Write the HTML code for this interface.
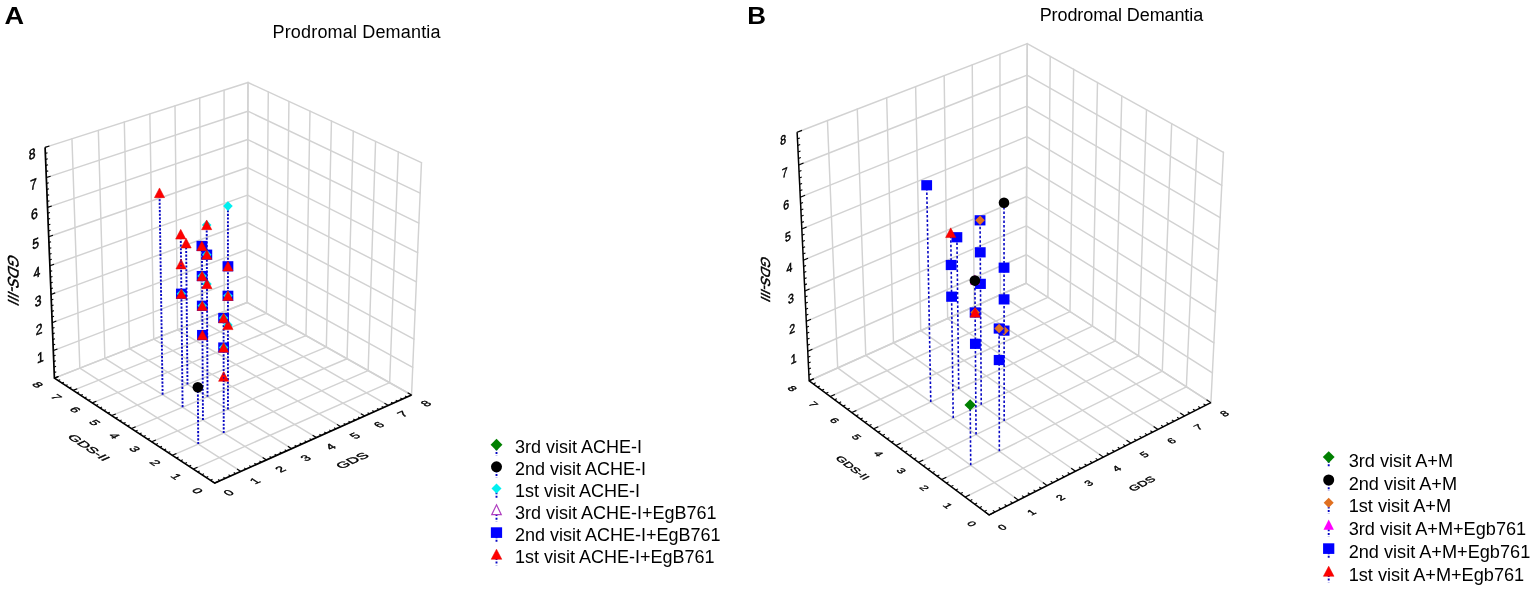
<!DOCTYPE html>
<html><head><meta charset="utf-8"><title>Prodromal Demantia</title>
<style>html,body{margin:0;padding:0;background:#fff}svg{display:block}</style></head>
<body>
<svg width="1535" height="592" viewBox="0 0 1535 592">
<rect width="1535" height="592" fill="#fff"/>
<g font-family="Liberation Sans, Arial, sans-serif" fill="#000">
<text transform="translate(4.6 24) scale(1.13 1)" font-size="24" font-weight="bold">A</text>
<text transform="translate(747.2 23.8) scale(1.08 1)" font-size="24" font-weight="bold">B</text>
<text x="272.5" y="38.4" font-size="18" textLength="168" lengthAdjust="spacing">Prodromal Demantia</text>
<text x="1039.7" y="21.2" font-size="18" textLength="163.5" lengthAdjust="spacing">Prodromal Demantia</text>
</g>
<g stroke="#d2d2d2" stroke-width="1.45" fill="none" stroke-linecap="round">
<line x1="214.77" y1="483.09" x2="54.42" y2="378.12"/>
<line x1="214.77" y1="483.09" x2="411.55" y2="395"/>
<line x1="54.42" y1="378.12" x2="45.1" y2="147.39"/>
<line x1="54.42" y1="378.12" x2="247.08" y2="302.49"/>
<line x1="411.55" y1="395" x2="421.46" y2="162.61"/>
<line x1="411.55" y1="395" x2="247.08" y2="302.49"/>
<line x1="240.84" y1="471.42" x2="79.84" y2="368.14"/>
<line x1="193.33" y1="469.06" x2="389.66" y2="382.68"/>
<line x1="79.84" y1="368.14" x2="71.94" y2="138.8"/>
<line x1="53.31" y1="350.57" x2="247.19" y2="276.15"/>
<line x1="389.66" y1="382.68" x2="398.29" y2="151.91"/>
<line x1="412.74" y1="367.27" x2="247.19" y2="276.15"/>
<line x1="266.47" y1="459.95" x2="104.86" y2="358.32"/>
<line x1="172.32" y1="455.3" x2="368.16" y2="370.59"/>
<line x1="104.86" y1="358.32" x2="98.34" y2="130.36"/>
<line x1="52.18" y1="322.67" x2="247.31" y2="249.49"/>
<line x1="368.16" y1="370.59" x2="375.57" y2="141.42"/>
<line x1="413.93" y1="339.17" x2="247.31" y2="249.49"/>
<line x1="291.67" y1="448.67" x2="129.48" y2="348.65"/>
<line x1="151.71" y1="441.81" x2="347.06" y2="358.72"/>
<line x1="129.48" y1="348.65" x2="124.31" y2="122.06"/>
<line x1="51.04" y1="294.4" x2="247.42" y2="222.5"/>
<line x1="347.06" y1="358.72" x2="353.29" y2="131.13"/>
<line x1="415.15" y1="310.71" x2="247.42" y2="222.5"/>
<line x1="316.44" y1="437.58" x2="153.73" y2="339.14"/>
<line x1="131.5" y1="428.58" x2="326.34" y2="347.07"/>
<line x1="153.73" y1="339.14" x2="149.86" y2="113.89"/>
<line x1="49.88" y1="265.76" x2="247.54" y2="195.19"/>
<line x1="326.34" y1="347.07" x2="331.44" y2="121.03"/>
<line x1="416.38" y1="281.87" x2="247.54" y2="195.19"/>
<line x1="340.81" y1="426.67" x2="177.61" y2="329.76"/>
<line x1="111.68" y1="415.61" x2="305.99" y2="335.62"/>
<line x1="177.61" y1="329.76" x2="174.99" y2="105.85"/>
<line x1="48.71" y1="236.75" x2="247.65" y2="167.54"/>
<line x1="305.99" y1="335.62" x2="309.99" y2="111.13"/>
<line x1="417.62" y1="252.65" x2="247.65" y2="167.54"/>
<line x1="364.78" y1="415.94" x2="201.12" y2="320.53"/>
<line x1="92.23" y1="402.88" x2="286.01" y2="324.38"/>
<line x1="201.12" y1="320.53" x2="199.72" y2="97.94"/>
<line x1="47.52" y1="207.36" x2="247.77" y2="139.54"/>
<line x1="286.01" y1="324.38" x2="288.94" y2="101.41"/>
<line x1="418.88" y1="223.04" x2="247.77" y2="139.54"/>
<line x1="388.36" y1="405.38" x2="224.27" y2="311.44"/>
<line x1="73.15" y1="390.38" x2="266.37" y2="313.34"/>
<line x1="224.27" y1="311.44" x2="224.06" y2="90.16"/>
<line x1="46.32" y1="177.57" x2="247.89" y2="111.2"/>
<line x1="266.37" y1="313.34" x2="268.29" y2="91.87"/>
<line x1="420.16" y1="193.03" x2="247.89" y2="111.2"/>
<line x1="411.55" y1="395" x2="247.08" y2="302.49"/>
<line x1="54.42" y1="378.12" x2="247.08" y2="302.49"/>
<line x1="247.08" y1="302.49" x2="248.01" y2="82.5"/>
<line x1="45.1" y1="147.39" x2="248.01" y2="82.5"/>
<line x1="247.08" y1="302.49" x2="248.01" y2="82.5"/>
<line x1="421.46" y1="162.61" x2="248.01" y2="82.5"/>
</g>
<g stroke="#000" stroke-width="1.7" fill="none" stroke-linejoin="miter">
<polyline points="45.1,147.39 54.42,378.12 214.77,483.09 411.55,395"/>
</g><g stroke="#000" stroke-width="1.1" fill="none">
<line x1="214.77" y1="483.09" x2="210.97" y2="480.6"/>
<line x1="214.77" y1="483.09" x2="218.97" y2="481.21"/>
<line x1="54.42" y1="378.12" x2="58.51" y2="376.52"/>
<line x1="220.02" y1="480.74" x2="218.12" y2="479.5"/>
<line x1="210.45" y1="480.26" x2="212.55" y2="479.32"/>
<line x1="54.2" y1="372.64" x2="56.25" y2="371.84"/>
<line x1="225.25" y1="478.4" x2="223.35" y2="477.16"/>
<line x1="206.15" y1="477.44" x2="208.25" y2="476.51"/>
<line x1="53.98" y1="367.15" x2="56.03" y2="366.35"/>
<line x1="230.47" y1="476.06" x2="228.56" y2="474.83"/>
<line x1="201.86" y1="474.64" x2="203.96" y2="473.71"/>
<line x1="53.75" y1="361.63" x2="55.81" y2="360.84"/>
<line x1="235.66" y1="473.74" x2="233.75" y2="472.51"/>
<line x1="197.59" y1="471.84" x2="199.69" y2="470.91"/>
<line x1="53.53" y1="356.11" x2="55.59" y2="355.32"/>
<line x1="240.84" y1="471.42" x2="237.02" y2="468.97"/>
<line x1="193.33" y1="469.06" x2="197.52" y2="467.21"/>
<line x1="53.31" y1="350.57" x2="57.43" y2="348.99"/>
<line x1="246" y1="469.11" x2="244.09" y2="467.89"/>
<line x1="189.1" y1="466.28" x2="191.19" y2="465.36"/>
<line x1="53.08" y1="345.02" x2="55.15" y2="344.23"/>
<line x1="251.15" y1="466.81" x2="249.23" y2="465.59"/>
<line x1="184.88" y1="463.52" x2="186.97" y2="462.61"/>
<line x1="52.86" y1="339.45" x2="54.92" y2="338.67"/>
<line x1="256.27" y1="464.51" x2="254.36" y2="463.3"/>
<line x1="180.68" y1="460.77" x2="182.77" y2="459.86"/>
<line x1="52.63" y1="333.87" x2="54.7" y2="333.09"/>
<line x1="261.38" y1="462.23" x2="259.46" y2="461.02"/>
<line x1="176.49" y1="458.03" x2="178.58" y2="457.12"/>
<line x1="52.41" y1="328.28" x2="54.48" y2="327.49"/>
<line x1="266.47" y1="459.95" x2="262.64" y2="457.54"/>
<line x1="172.32" y1="455.3" x2="176.49" y2="453.49"/>
<line x1="52.18" y1="322.67" x2="56.33" y2="321.11"/>
<line x1="271.54" y1="457.68" x2="269.63" y2="456.47"/>
<line x1="168.16" y1="452.58" x2="170.25" y2="451.68"/>
<line x1="51.95" y1="317.04" x2="54.03" y2="316.27"/>
<line x1="276.6" y1="455.41" x2="274.68" y2="454.22"/>
<line x1="164.03" y1="449.87" x2="166.11" y2="448.98"/>
<line x1="51.72" y1="311.4" x2="53.81" y2="310.63"/>
<line x1="281.64" y1="453.16" x2="279.72" y2="451.96"/>
<line x1="159.91" y1="447.17" x2="161.99" y2="446.28"/>
<line x1="51.5" y1="305.75" x2="53.58" y2="304.98"/>
<line x1="286.66" y1="450.91" x2="284.74" y2="449.72"/>
<line x1="155.8" y1="444.49" x2="157.88" y2="443.6"/>
<line x1="51.27" y1="300.08" x2="53.35" y2="299.31"/>
<line x1="291.67" y1="448.67" x2="287.83" y2="446.3"/>
<line x1="151.71" y1="441.81" x2="155.87" y2="440.04"/>
<line x1="51.04" y1="294.4" x2="55.21" y2="292.87"/>
<line x1="296.66" y1="446.43" x2="294.73" y2="445.25"/>
<line x1="147.64" y1="439.14" x2="149.72" y2="438.26"/>
<line x1="50.81" y1="288.7" x2="52.9" y2="287.94"/>
<line x1="301.63" y1="444.21" x2="299.7" y2="443.03"/>
<line x1="143.58" y1="436.49" x2="145.66" y2="435.61"/>
<line x1="50.58" y1="282.99" x2="52.67" y2="282.23"/>
<line x1="306.58" y1="441.99" x2="304.66" y2="440.82"/>
<line x1="139.54" y1="433.84" x2="141.62" y2="432.97"/>
<line x1="50.34" y1="277.26" x2="52.44" y2="276.5"/>
<line x1="311.52" y1="439.78" x2="309.6" y2="438.61"/>
<line x1="135.51" y1="431.21" x2="137.59" y2="430.33"/>
<line x1="50.11" y1="271.52" x2="52.21" y2="270.77"/>
<line x1="316.44" y1="437.58" x2="312.59" y2="435.25"/>
<line x1="131.5" y1="428.58" x2="135.65" y2="426.85"/>
<line x1="49.88" y1="265.76" x2="54.09" y2="264.26"/>
<line x1="321.35" y1="435.38" x2="319.42" y2="434.22"/>
<line x1="127.51" y1="425.97" x2="129.58" y2="425.1"/>
<line x1="49.65" y1="259.99" x2="51.75" y2="259.24"/>
<line x1="326.24" y1="433.19" x2="324.31" y2="432.03"/>
<line x1="123.53" y1="423.36" x2="125.6" y2="422.5"/>
<line x1="49.41" y1="254.2" x2="51.52" y2="253.46"/>
<line x1="331.11" y1="431.01" x2="329.18" y2="429.86"/>
<line x1="119.56" y1="420.77" x2="121.64" y2="419.91"/>
<line x1="49.18" y1="248.4" x2="51.29" y2="247.66"/>
<line x1="335.97" y1="428.84" x2="334.04" y2="427.68"/>
<line x1="115.61" y1="418.18" x2="117.68" y2="417.33"/>
<line x1="48.94" y1="242.58" x2="51.06" y2="241.84"/>
<line x1="340.81" y1="426.67" x2="336.95" y2="424.38"/>
<line x1="111.68" y1="415.61" x2="115.82" y2="413.9"/>
<line x1="48.71" y1="236.75" x2="52.94" y2="235.28"/>
<line x1="345.64" y1="424.51" x2="343.7" y2="423.36"/>
<line x1="107.76" y1="413.04" x2="109.83" y2="412.19"/>
<line x1="48.47" y1="230.9" x2="50.59" y2="230.17"/>
<line x1="350.45" y1="422.36" x2="348.51" y2="421.22"/>
<line x1="103.86" y1="410.48" x2="105.92" y2="409.64"/>
<line x1="48.23" y1="225.04" x2="50.36" y2="224.31"/>
<line x1="355.24" y1="420.21" x2="353.3" y2="419.07"/>
<line x1="99.97" y1="407.94" x2="102.03" y2="407.1"/>
<line x1="48" y1="219.16" x2="50.12" y2="218.43"/>
<line x1="360.02" y1="418.07" x2="358.08" y2="416.94"/>
<line x1="96.09" y1="405.4" x2="98.16" y2="404.56"/>
<line x1="47.76" y1="213.27" x2="49.89" y2="212.54"/>
<line x1="364.78" y1="415.94" x2="360.91" y2="413.68"/>
<line x1="92.23" y1="402.88" x2="96.35" y2="401.21"/>
<line x1="47.52" y1="207.36" x2="51.78" y2="205.91"/>
<line x1="369.52" y1="413.81" x2="367.59" y2="412.69"/>
<line x1="88.39" y1="400.36" x2="90.45" y2="399.53"/>
<line x1="47.28" y1="201.43" x2="49.42" y2="200.71"/>
<line x1="374.26" y1="411.7" x2="372.32" y2="410.58"/>
<line x1="84.55" y1="397.85" x2="86.61" y2="397.02"/>
<line x1="47.04" y1="195.49" x2="49.18" y2="194.77"/>
<line x1="378.97" y1="409.59" x2="377.03" y2="408.47"/>
<line x1="80.74" y1="395.35" x2="82.8" y2="394.53"/>
<line x1="46.8" y1="189.53" x2="48.94" y2="188.82"/>
<line x1="383.67" y1="407.48" x2="381.73" y2="406.37"/>
<line x1="76.94" y1="392.86" x2="78.99" y2="392.04"/>
<line x1="46.56" y1="183.56" x2="48.7" y2="182.85"/>
<line x1="388.36" y1="405.38" x2="384.48" y2="403.17"/>
<line x1="73.15" y1="390.38" x2="77.26" y2="388.75"/>
<line x1="46.32" y1="177.57" x2="50.61" y2="176.16"/>
<line x1="393.03" y1="403.29" x2="391.08" y2="402.19"/>
<line x1="69.37" y1="387.91" x2="71.43" y2="387.1"/>
<line x1="46.07" y1="171.57" x2="48.23" y2="170.86"/>
<line x1="397.68" y1="401.21" x2="395.74" y2="400.11"/>
<line x1="65.61" y1="385.45" x2="67.67" y2="384.64"/>
<line x1="45.83" y1="165.55" x2="47.99" y2="164.84"/>
<line x1="402.32" y1="399.13" x2="400.38" y2="398.03"/>
<line x1="61.87" y1="383" x2="63.92" y2="382.19"/>
<line x1="45.59" y1="159.51" x2="47.74" y2="158.81"/>
<line x1="406.94" y1="397.06" x2="405" y2="395.97"/>
<line x1="58.14" y1="380.56" x2="60.19" y2="379.75"/>
<line x1="45.34" y1="153.46" x2="47.5" y2="152.76"/>
<line x1="411.55" y1="395" x2="407.67" y2="392.82"/>
<line x1="54.42" y1="378.12" x2="58.51" y2="376.52"/>
<line x1="45.1" y1="147.39" x2="49.42" y2="146"/>
</g>
<g font-family="Liberation Sans, Arial, sans-serif" fill="#000" stroke="#000" stroke-width="0.45">
<text transform="matrix(0.9127 -0.4086 0.7530 0.4929 228.63 492.75)" font-size="12.5" text-anchor="middle" dy="0.35em" >0</text>
<text transform="matrix(0.8367 0.5477 -0.8214 0.3677 197.58 490.78)" font-size="12.5" text-anchor="middle" dy="0.35em" >0</text>
<text transform="matrix(0.9127 -0.4086 0.7530 0.4929 254.76 480.91)" font-size="12.5" text-anchor="middle" dy="0.35em" >1</text>
<text transform="matrix(0.8367 0.5477 -0.8214 0.3677 176.2 476.6)" font-size="12.5" text-anchor="middle" dy="0.35em" >1</text>
<text transform="matrix(0.9774 -0.3837 -0.0000 1.1500 40.31 357.07)" font-size="12.5" text-anchor="middle" dy="0.35em" >1</text>
<text transform="matrix(0.9127 -0.4086 0.7530 0.4929 280.44 469.28)" font-size="12.5" text-anchor="middle" dy="0.35em" >2</text>
<text transform="matrix(0.8367 0.5477 -0.8214 0.3677 155.24 462.69)" font-size="12.5" text-anchor="middle" dy="0.35em" >2</text>
<text transform="matrix(0.9774 -0.3837 -0.0000 1.1500 39.18 329.17)" font-size="12.5" text-anchor="middle" dy="0.35em" >2</text>
<text transform="matrix(0.9127 -0.4086 0.7530 0.4929 305.69 457.85)" font-size="12.5" text-anchor="middle" dy="0.35em" >3</text>
<text transform="matrix(0.8367 0.5477 -0.8214 0.3677 134.68 449.05)" font-size="12.5" text-anchor="middle" dy="0.35em" >3</text>
<text transform="matrix(0.9774 -0.3837 -0.0000 1.1500 38.04 300.9)" font-size="12.5" text-anchor="middle" dy="0.35em" >3</text>
<text transform="matrix(0.9127 -0.4086 0.7530 0.4929 330.51 446.61)" font-size="12.5" text-anchor="middle" dy="0.35em" >4</text>
<text transform="matrix(0.8367 0.5477 -0.8214 0.3677 114.53 435.68)" font-size="12.5" text-anchor="middle" dy="0.35em" >4</text>
<text transform="matrix(0.9774 -0.3837 -0.0000 1.1500 36.88 272.26)" font-size="12.5" text-anchor="middle" dy="0.35em" >4</text>
<text transform="matrix(0.9127 -0.4086 0.7530 0.4929 354.92 435.55)" font-size="12.5" text-anchor="middle" dy="0.35em" >5</text>
<text transform="matrix(0.8367 0.5477 -0.8214 0.3677 94.76 422.57)" font-size="12.5" text-anchor="middle" dy="0.35em" >5</text>
<text transform="matrix(0.9774 -0.3837 -0.0000 1.1500 35.71 243.25)" font-size="12.5" text-anchor="middle" dy="0.35em" >5</text>
<text transform="matrix(0.9127 -0.4086 0.7530 0.4929 378.93 424.68)" font-size="12.5" text-anchor="middle" dy="0.35em" >6</text>
<text transform="matrix(0.8367 0.5477 -0.8214 0.3677 75.37 409.7)" font-size="12.5" text-anchor="middle" dy="0.35em" >6</text>
<text transform="matrix(0.9774 -0.3837 -0.0000 1.1500 34.52 213.86)" font-size="12.5" text-anchor="middle" dy="0.35em" >6</text>
<text transform="matrix(0.9127 -0.4086 0.7530 0.4929 402.54 413.99)" font-size="12.5" text-anchor="middle" dy="0.35em" >7</text>
<text transform="matrix(0.8367 0.5477 -0.8214 0.3677 56.35 397.08)" font-size="12.5" text-anchor="middle" dy="0.35em" >7</text>
<text transform="matrix(0.9774 -0.3837 -0.0000 1.1500 33.32 184.07)" font-size="12.5" text-anchor="middle" dy="0.35em" >7</text>
<text transform="matrix(0.9127 -0.4086 0.7530 0.4929 425.77 403.47)" font-size="12.5" text-anchor="middle" dy="0.35em" >8</text>
<text transform="matrix(0.8367 0.5477 -0.8214 0.3677 37.68 384.7)" font-size="12.5" text-anchor="middle" dy="0.35em" >8</text>
<text transform="matrix(0.9774 -0.3837 -0.0000 1.1500 32.1 153.89)" font-size="12.5" text-anchor="middle" dy="0.35em" >8</text>
<text transform="matrix(1.0222 -0.4576 0.7530 0.4929 352.19 460.52)" font-size="13" text-anchor="middle" dy="0.35em" >GDS</text>
<text transform="matrix(0.9371 0.6134 -0.8214 0.3677 88.78 447.54)" font-size="13" text-anchor="middle" dy="0.35em" >GDS-II</text>
<text transform="matrix(0.0000 0.9800 -1.0151 -0.4733 13.6 280)" font-size="15" text-anchor="middle" dy="0.35em" >GDS-III</text>
</g>
<g stroke="#0606c4" stroke-width="1.9" stroke-dasharray="2.1 1.55" fill="none">
<line x1="162.61" y1="394.64" x2="159.51" y2="192.34"/>
<line x1="182.6" y1="407.21" x2="180.73" y2="233.77"/>
<line x1="187.47" y1="384.41" x2="186.11" y2="242.67"/>
<line x1="198.24" y1="444.09" x2="197.83" y2="386.71"/>
<line x1="202.96" y1="420.01" x2="201.91" y2="245.37"/>
<line x1="207.52" y1="396.78" x2="206.68" y2="224.38"/>
<line x1="223.72" y1="433.07" x2="223.59" y2="317.42"/>
<line x1="227.96" y1="409.38" x2="227.93" y2="205.48"/>
</g>
<g>
<path d="M186.11 238.27L191.21 247.97L181.01 247.97Z" fill="#ff0000" stroke="#e00000" stroke-width="0.5"/>
<path d="M206.97 279.17L211.77 283.97L206.97 288.77L202.17 283.97Z" fill="#00f0f0"/>
<path d="M206.97 278.97L212.07 288.67L201.87 288.67Z" fill="#ff0000" stroke="#e00000" stroke-width="0.5"/>
<path d="M227.95 320.11L232.75 324.91L227.95 329.71L223.15 324.91Z" fill="#00f0f0"/>
<path d="M227.95 319.91L233.05 329.61L222.85 329.61Z" fill="#ff0000" stroke="#e00000" stroke-width="0.5"/>
<rect x="201.42" y="249.57" width="10.8" height="10.2" fill="#0000ff"/>
<path d="M206.82 249.87L211.62 254.67L206.82 259.47L202.02 254.67Z" fill="#00f0f0"/>
<path d="M206.82 249.67L211.92 259.37L201.72 259.37Z" fill="#ff0000" stroke="#e00000" stroke-width="0.5"/>
<rect x="175.97" y="288.62" width="10.8" height="10.2" fill="#0000ff"/>
<path d="M181.37 288.92L186.17 293.72L181.37 298.52L176.57 293.72Z" fill="#00f0f0"/>
<path d="M181.37 288.72L186.47 298.42L176.27 298.42Z" fill="#ff0000" stroke="#e00000" stroke-width="0.5"/>
<rect x="222.54" y="290.7" width="10.8" height="10.2" fill="#0000ff"/>
<path d="M227.94 291L232.74 295.8L227.94 300.6L223.14 295.8Z" fill="#00f0f0"/>
<path d="M227.94 290.8L233.04 300.5L222.84 300.5Z" fill="#ff0000" stroke="#e00000" stroke-width="0.5"/>
<rect x="197.05" y="329.94" width="10.8" height="10.2" fill="#0000ff"/>
<path d="M202.45 330.04L207.55 339.74L197.35 339.74Z" fill="#ff0000" stroke="#e00000" stroke-width="0.5"/>
<path d="M206.68 220.18L211.48 224.98L206.68 229.78L201.88 224.98Z" fill="#00f0f0"/>
<path d="M206.68 219.98L211.78 229.68L201.58 229.68Z" fill="#ff0000" stroke="#e00000" stroke-width="0.5"/>
<path d="M223.66 371.62L228.76 381.32L218.56 381.32Z" fill="#ff0000" stroke="#e00000" stroke-width="0.5"/>
<path d="M181.05 259.25L186.15 268.95L175.95 268.95Z" fill="#ff0000" stroke="#e00000" stroke-width="0.5"/>
<rect x="222.54" y="261.2" width="10.8" height="10.2" fill="#0000ff"/>
<path d="M227.94 261.3L233.04 271L222.84 271Z" fill="#ff0000" stroke="#e00000" stroke-width="0.5"/>
<rect x="196.87" y="300.65" width="10.8" height="10.2" fill="#0000ff"/>
<path d="M202.27 300.95L207.07 305.75L202.27 310.55L197.47 305.75Z" fill="#00f0f0"/>
<path d="M202.27 300.75L207.37 310.45L197.17 310.45Z" fill="#ff0000" stroke="#e00000" stroke-width="0.5"/>
<path d="M159.51 187.94L164.61 197.64L154.41 197.64Z" fill="#ff0000" stroke="#e00000" stroke-width="0.5"/>
<rect x="218.22" y="342.42" width="10.8" height="10.2" fill="#0000ff"/>
<path d="M223.62 342.72L228.42 347.52L223.62 352.32L218.82 347.52Z" fill="#00f0f0"/>
<path d="M223.62 342.52L228.72 352.22L218.52 352.22Z" fill="#ff0000" stroke="#e00000" stroke-width="0.5"/>
<path d="M180.73 229.37L185.83 239.07L175.63 239.07Z" fill="#ff0000" stroke="#e00000" stroke-width="0.5"/>
<circle cx="197.83" cy="387.31" r="5.3" fill="#000"/>
<rect x="196.7" y="270.97" width="10.8" height="10.2" fill="#0000ff"/>
<path d="M202.1 271.27L206.9 276.07L202.1 280.87L197.3 276.07Z" fill="#00f0f0"/>
<path d="M202.1 271.07L207.2 280.77L197 280.77Z" fill="#ff0000" stroke="#e00000" stroke-width="0.5"/>
<rect x="218.19" y="312.92" width="10.8" height="10.2" fill="#0000ff"/>
<path d="M223.59 313.22L228.39 318.02L223.59 322.82L218.79 318.02Z" fill="#00f0f0"/>
<path d="M223.59 313.02L228.69 322.72L218.49 322.72Z" fill="#ff0000" stroke="#e00000" stroke-width="0.5"/>
<path d="M227.93 201.28L232.73 206.08L227.93 210.88L223.13 206.08Z" fill="#00f0f0"/>
<rect x="196.51" y="240.87" width="10.8" height="10.2" fill="#0000ff"/>
<path d="M201.91 240.97L207.01 250.67L196.81 250.67Z" fill="#ff0000" stroke="#e00000" stroke-width="0.5"/>
<line x1="223.66" y1="373.52" x2="223.66" y2="381.52" stroke="#0606c4" stroke-width="1.3" stroke-dasharray="1.6 2" opacity="0.8"/>
<line x1="181.05" y1="261.15" x2="181.05" y2="269.15" stroke="#0606c4" stroke-width="1.3" stroke-dasharray="1.6 2" opacity="0.8"/>
</g>
<g stroke="#d2d2d2" stroke-width="1.45" fill="none" stroke-linecap="round">
<line x1="989.17" y1="514.97" x2="809.19" y2="380.77"/>
<line x1="989.17" y1="514.97" x2="1210.9" y2="402.62"/>
<line x1="809.19" y1="380.77" x2="797.13" y2="132.26"/>
<line x1="809.19" y1="380.77" x2="1026.15" y2="283.25"/>
<line x1="1210.9" y1="402.62" x2="1223.43" y2="152.31"/>
<line x1="1210.9" y1="402.62" x2="1026.15" y2="283.25"/>
<line x1="1018.39" y1="500.16" x2="837.69" y2="367.96"/>
<line x1="965.2" y1="497.1" x2="1186.38" y2="386.78"/>
<line x1="837.69" y1="367.96" x2="827.44" y2="120.59"/>
<line x1="807.76" y1="351.27" x2="1026.28" y2="254.73"/>
<line x1="1186.38" y1="386.78" x2="1197.31" y2="137.84"/>
<line x1="1212.38" y1="372.93" x2="1026.28" y2="254.73"/>
<line x1="1047.16" y1="485.58" x2="865.77" y2="355.34"/>
<line x1="941.68" y1="479.56" x2="1162.3" y2="371.22"/>
<line x1="865.77" y1="355.34" x2="857.28" y2="109.09"/>
<line x1="806.31" y1="321.35" x2="1026.41" y2="225.81"/>
<line x1="1162.3" y1="371.22" x2="1171.66" y2="123.63"/>
<line x1="1213.89" y1="342.81" x2="1026.41" y2="225.81"/>
<line x1="1075.5" y1="471.22" x2="893.45" y2="342.89"/>
<line x1="918.59" y1="462.34" x2="1138.63" y2="355.92"/>
<line x1="893.45" y1="342.89" x2="886.68" y2="97.77"/>
<line x1="804.84" y1="290.99" x2="1026.54" y2="196.5"/>
<line x1="1138.63" y1="355.92" x2="1146.49" y2="109.69"/>
<line x1="1215.42" y1="312.23" x2="1026.54" y2="196.5"/>
<line x1="1103.4" y1="457.09" x2="920.74" y2="330.63"/>
<line x1="895.91" y1="445.43" x2="1115.36" y2="340.89"/>
<line x1="920.74" y1="330.63" x2="915.63" y2="86.61"/>
<line x1="803.34" y1="260.18" x2="1026.67" y2="166.77"/>
<line x1="1115.36" y1="340.89" x2="1121.77" y2="96"/>
<line x1="1216.98" y1="281.21" x2="1026.67" y2="166.77"/>
<line x1="1130.88" y1="443.16" x2="947.65" y2="318.53"/>
<line x1="873.65" y1="428.83" x2="1092.49" y2="326.11"/>
<line x1="947.65" y1="318.53" x2="944.15" y2="75.63"/>
<line x1="801.82" y1="228.92" x2="1026.81" y2="136.63"/>
<line x1="1092.49" y1="326.11" x2="1097.5" y2="82.55"/>
<line x1="1218.55" y1="249.71" x2="1026.81" y2="136.63"/>
<line x1="1157.95" y1="429.45" x2="974.18" y2="306.61"/>
<line x1="851.78" y1="412.52" x2="1070.01" y2="311.58"/>
<line x1="974.18" y1="306.61" x2="972.25" y2="64.8"/>
<line x1="800.28" y1="197.18" x2="1026.95" y2="106.07"/>
<line x1="1070.01" y1="311.58" x2="1073.66" y2="69.34"/>
<line x1="1220.16" y1="217.74" x2="1026.95" y2="106.07"/>
<line x1="1184.62" y1="415.93" x2="1000.35" y2="294.85"/>
<line x1="830.3" y1="396.5" x2="1047.9" y2="297.3"/>
<line x1="1000.35" y1="294.85" x2="999.94" y2="54.14"/>
<line x1="798.72" y1="164.97" x2="1027.08" y2="75.07"/>
<line x1="1047.9" y1="297.3" x2="1050.24" y2="56.37"/>
<line x1="1221.78" y1="185.27" x2="1027.08" y2="75.07"/>
<line x1="1210.9" y1="402.62" x2="1026.15" y2="283.25"/>
<line x1="809.19" y1="380.77" x2="1026.15" y2="283.25"/>
<line x1="1026.15" y1="283.25" x2="1027.23" y2="43.62"/>
<line x1="797.13" y1="132.26" x2="1027.23" y2="43.62"/>
<line x1="1026.15" y1="283.25" x2="1027.23" y2="43.62"/>
<line x1="1223.43" y1="152.31" x2="1027.23" y2="43.62"/>
</g>
<g stroke="#000" stroke-width="1.45" fill="none" stroke-linejoin="miter">
<polyline points="797.13,132.26 809.19,380.77 989.17,514.97 1210.9,402.62"/>
</g><g stroke="#000" stroke-width="1.1" fill="none">
<line x1="989.17" y1="514.97" x2="984.92" y2="511.8"/>
<line x1="989.17" y1="514.97" x2="993.87" y2="512.58"/>
<line x1="809.19" y1="380.77" x2="813.78" y2="378.7"/>
<line x1="995.05" y1="511.99" x2="992.92" y2="510.41"/>
<line x1="984.34" y1="511.37" x2="986.69" y2="510.18"/>
<line x1="808.91" y1="374.9" x2="811.21" y2="373.87"/>
<line x1="1000.91" y1="509.02" x2="998.78" y2="507.44"/>
<line x1="979.53" y1="507.78" x2="981.88" y2="506.59"/>
<line x1="808.62" y1="369.02" x2="810.93" y2="367.99"/>
<line x1="1006.76" y1="506.06" x2="1004.62" y2="504.48"/>
<line x1="974.73" y1="504.2" x2="977.08" y2="503.02"/>
<line x1="808.34" y1="363.12" x2="810.64" y2="362.1"/>
<line x1="1012.58" y1="503.1" x2="1010.45" y2="501.54"/>
<line x1="969.96" y1="500.64" x2="972.31" y2="499.47"/>
<line x1="808.05" y1="357.21" x2="810.36" y2="356.18"/>
<line x1="1018.39" y1="500.16" x2="1014.12" y2="497.04"/>
<line x1="965.2" y1="497.1" x2="969.89" y2="494.76"/>
<line x1="807.76" y1="351.27" x2="812.38" y2="349.23"/>
<line x1="1024.18" y1="497.23" x2="1022.04" y2="495.67"/>
<line x1="960.46" y1="493.56" x2="962.81" y2="492.4"/>
<line x1="807.47" y1="345.32" x2="809.79" y2="344.3"/>
<line x1="1029.95" y1="494.3" x2="1027.82" y2="492.75"/>
<line x1="955.74" y1="490.04" x2="958.08" y2="488.88"/>
<line x1="807.18" y1="339.36" x2="809.5" y2="338.34"/>
<line x1="1035.71" y1="491.39" x2="1033.57" y2="489.84"/>
<line x1="951.03" y1="486.53" x2="953.38" y2="485.38"/>
<line x1="806.89" y1="333.37" x2="809.22" y2="332.36"/>
<line x1="1041.44" y1="488.48" x2="1039.3" y2="486.94"/>
<line x1="946.35" y1="483.04" x2="948.69" y2="481.88"/>
<line x1="806.6" y1="327.37" x2="808.93" y2="326.36"/>
<line x1="1047.16" y1="485.58" x2="1042.88" y2="482.51"/>
<line x1="941.68" y1="479.56" x2="946.36" y2="477.26"/>
<line x1="806.31" y1="321.35" x2="810.97" y2="319.33"/>
<line x1="1052.87" y1="482.69" x2="1050.72" y2="481.16"/>
<line x1="937.02" y1="476.09" x2="939.36" y2="474.94"/>
<line x1="806.02" y1="315.31" x2="808.35" y2="314.31"/>
<line x1="1058.55" y1="479.81" x2="1056.41" y2="478.28"/>
<line x1="932.39" y1="472.63" x2="934.73" y2="471.49"/>
<line x1="805.72" y1="309.26" x2="808.06" y2="308.25"/>
<line x1="1064.22" y1="476.94" x2="1062.07" y2="475.42"/>
<line x1="927.77" y1="469.19" x2="930.11" y2="468.05"/>
<line x1="805.43" y1="303.19" x2="807.77" y2="302.18"/>
<line x1="1069.86" y1="474.08" x2="1067.72" y2="472.56"/>
<line x1="923.17" y1="465.76" x2="925.5" y2="464.62"/>
<line x1="805.13" y1="297.1" x2="807.48" y2="296.1"/>
<line x1="1075.5" y1="471.22" x2="1071.2" y2="468.2"/>
<line x1="918.59" y1="462.34" x2="923.25" y2="460.08"/>
<line x1="804.84" y1="290.99" x2="809.53" y2="288.99"/>
<line x1="1081.11" y1="468.38" x2="1078.96" y2="466.87"/>
<line x1="914.02" y1="458.93" x2="916.35" y2="457.81"/>
<line x1="804.54" y1="284.87" x2="806.89" y2="283.87"/>
<line x1="1086.71" y1="465.54" x2="1084.56" y2="464.04"/>
<line x1="909.47" y1="455.54" x2="911.8" y2="454.42"/>
<line x1="804.24" y1="278.72" x2="806.6" y2="277.73"/>
<line x1="1092.29" y1="462.72" x2="1090.14" y2="461.22"/>
<line x1="904.93" y1="452.16" x2="907.26" y2="451.04"/>
<line x1="803.94" y1="272.56" x2="806.3" y2="271.57"/>
<line x1="1097.85" y1="459.9" x2="1095.7" y2="458.4"/>
<line x1="900.41" y1="448.79" x2="902.74" y2="447.68"/>
<line x1="803.64" y1="266.38" x2="806" y2="265.39"/>
<line x1="1103.4" y1="457.09" x2="1099.09" y2="454.11"/>
<line x1="895.91" y1="445.43" x2="900.56" y2="443.22"/>
<line x1="803.34" y1="260.18" x2="808.07" y2="258.2"/>
<line x1="1108.93" y1="454.28" x2="1106.77" y2="452.8"/>
<line x1="891.43" y1="442.09" x2="893.75" y2="440.98"/>
<line x1="803.04" y1="253.97" x2="805.41" y2="252.98"/>
<line x1="1114.44" y1="451.49" x2="1112.29" y2="450.01"/>
<line x1="886.96" y1="438.75" x2="889.28" y2="437.65"/>
<line x1="802.74" y1="247.73" x2="805.11" y2="246.75"/>
<line x1="1119.94" y1="448.71" x2="1117.78" y2="447.23"/>
<line x1="882.51" y1="435.43" x2="884.83" y2="434.34"/>
<line x1="802.43" y1="241.48" x2="804.81" y2="240.5"/>
<line x1="1125.42" y1="445.93" x2="1123.26" y2="444.46"/>
<line x1="878.07" y1="432.12" x2="880.39" y2="431.03"/>
<line x1="802.13" y1="235.21" x2="804.51" y2="234.23"/>
<line x1="1130.88" y1="443.16" x2="1126.56" y2="440.23"/>
<line x1="873.65" y1="428.83" x2="878.28" y2="426.65"/>
<line x1="801.82" y1="228.92" x2="806.59" y2="226.96"/>
<line x1="1136.33" y1="440.4" x2="1134.17" y2="438.94"/>
<line x1="869.24" y1="425.54" x2="871.56" y2="424.46"/>
<line x1="801.52" y1="222.61" x2="803.91" y2="221.63"/>
<line x1="1141.76" y1="437.65" x2="1139.6" y2="436.19"/>
<line x1="864.85" y1="422.27" x2="867.17" y2="421.19"/>
<line x1="801.21" y1="216.28" x2="803.6" y2="215.31"/>
<line x1="1147.17" y1="434.91" x2="1145.01" y2="433.45"/>
<line x1="860.48" y1="419.01" x2="862.79" y2="417.93"/>
<line x1="800.9" y1="209.93" x2="803.3" y2="208.96"/>
<line x1="1152.57" y1="432.17" x2="1150.41" y2="430.72"/>
<line x1="856.12" y1="415.76" x2="858.43" y2="414.69"/>
<line x1="800.59" y1="203.57" x2="802.99" y2="202.6"/>
<line x1="1157.95" y1="429.45" x2="1153.62" y2="426.55"/>
<line x1="851.78" y1="412.52" x2="856.4" y2="410.39"/>
<line x1="800.28" y1="197.18" x2="805.09" y2="195.25"/>
<line x1="1163.32" y1="426.73" x2="1161.15" y2="425.28"/>
<line x1="847.45" y1="409.3" x2="849.76" y2="408.23"/>
<line x1="799.97" y1="190.78" x2="802.38" y2="189.81"/>
<line x1="1168.67" y1="424.02" x2="1166.5" y2="422.58"/>
<line x1="843.14" y1="406.08" x2="845.45" y2="405.02"/>
<line x1="799.66" y1="184.35" x2="802.07" y2="183.39"/>
<line x1="1174" y1="421.31" x2="1171.83" y2="419.88"/>
<line x1="838.85" y1="402.88" x2="841.15" y2="401.82"/>
<line x1="799.35" y1="177.91" x2="801.76" y2="176.95"/>
<line x1="1179.32" y1="418.62" x2="1177.15" y2="417.19"/>
<line x1="834.56" y1="399.68" x2="836.87" y2="398.63"/>
<line x1="799.04" y1="171.45" x2="801.45" y2="170.49"/>
<line x1="1184.62" y1="415.93" x2="1180.28" y2="413.08"/>
<line x1="830.3" y1="396.5" x2="834.9" y2="394.41"/>
<line x1="798.72" y1="164.97" x2="803.56" y2="163.06"/>
<line x1="1189.91" y1="413.25" x2="1187.74" y2="411.83"/>
<line x1="826.05" y1="393.33" x2="828.35" y2="392.29"/>
<line x1="798.41" y1="158.46" x2="800.83" y2="157.51"/>
<line x1="1195.18" y1="410.58" x2="1193.01" y2="409.17"/>
<line x1="821.81" y1="390.18" x2="824.11" y2="389.13"/>
<line x1="798.09" y1="151.94" x2="800.52" y2="151"/>
<line x1="1200.43" y1="407.92" x2="1198.26" y2="406.51"/>
<line x1="817.59" y1="387.03" x2="819.89" y2="385.99"/>
<line x1="797.77" y1="145.4" x2="800.21" y2="144.46"/>
<line x1="1205.67" y1="405.27" x2="1203.5" y2="403.86"/>
<line x1="813.39" y1="383.89" x2="815.68" y2="382.86"/>
<line x1="797.45" y1="138.84" x2="799.89" y2="137.9"/>
<line x1="1210.9" y1="402.62" x2="1206.55" y2="399.81"/>
<line x1="809.19" y1="380.77" x2="813.78" y2="378.7"/>
<line x1="797.13" y1="132.26" x2="802.01" y2="130.38"/>
</g>
<g font-family="Liberation Sans, Arial, sans-serif" fill="#000" stroke="#000" stroke-width="0.45">
<text transform="matrix(0.8920 -0.4520 0.7215 0.5380 1002.19 527.27)" font-size="11" text-anchor="middle" dy="0.35em" >0</text>
<text transform="matrix(0.8017 0.5978 -0.8028 0.4068 971.71 523.81)" font-size="11" text-anchor="middle" dy="0.35em" >0</text>
<text transform="matrix(0.8920 -0.4520 0.7215 0.5380 1031.5 512.28)" font-size="11" text-anchor="middle" dy="0.35em" >1</text>
<text transform="matrix(0.8017 0.5978 -0.8028 0.4068 947.8 505.78)" font-size="11" text-anchor="middle" dy="0.35em" >1</text>
<text transform="matrix(0.9577 -0.4305 -0.0000 1.1500 793.76 358.77)" font-size="11" text-anchor="middle" dy="0.35em" >1</text>
<text transform="matrix(0.8920 -0.4520 0.7215 0.5380 1060.35 497.51)" font-size="11" text-anchor="middle" dy="0.35em" >2</text>
<text transform="matrix(0.8017 0.5978 -0.8028 0.4068 924.33 488.08)" font-size="11" text-anchor="middle" dy="0.35em" >2</text>
<text transform="matrix(0.9577 -0.4305 -0.0000 1.1500 792.31 328.85)" font-size="11" text-anchor="middle" dy="0.35em" >2</text>
<text transform="matrix(0.8920 -0.4520 0.7215 0.5380 1088.76 482.97)" font-size="11" text-anchor="middle" dy="0.35em" >3</text>
<text transform="matrix(0.8017 0.5978 -0.8028 0.4068 901.29 470.7)" font-size="11" text-anchor="middle" dy="0.35em" >3</text>
<text transform="matrix(0.9577 -0.4305 -0.0000 1.1500 790.84 298.49)" font-size="11" text-anchor="middle" dy="0.35em" >3</text>
<text transform="matrix(0.8920 -0.4520 0.7215 0.5380 1116.73 468.66)" font-size="11" text-anchor="middle" dy="0.35em" >4</text>
<text transform="matrix(0.8017 0.5978 -0.8028 0.4068 878.67 453.64)" font-size="11" text-anchor="middle" dy="0.35em" >4</text>
<text transform="matrix(0.9577 -0.4305 -0.0000 1.1500 789.34 267.68)" font-size="11" text-anchor="middle" dy="0.35em" >4</text>
<text transform="matrix(0.8920 -0.4520 0.7215 0.5380 1144.28 454.56)" font-size="11" text-anchor="middle" dy="0.35em" >5</text>
<text transform="matrix(0.8017 0.5978 -0.8028 0.4068 856.47 436.89)" font-size="11" text-anchor="middle" dy="0.35em" >5</text>
<text transform="matrix(0.9577 -0.4305 -0.0000 1.1500 787.82 236.42)" font-size="11" text-anchor="middle" dy="0.35em" >5</text>
<text transform="matrix(0.8920 -0.4520 0.7215 0.5380 1171.42 440.67)" font-size="11" text-anchor="middle" dy="0.35em" >6</text>
<text transform="matrix(0.8017 0.5978 -0.8028 0.4068 834.66 420.44)" font-size="11" text-anchor="middle" dy="0.35em" >6</text>
<text transform="matrix(0.9577 -0.4305 -0.0000 1.1500 786.28 204.68)" font-size="11" text-anchor="middle" dy="0.35em" >6</text>
<text transform="matrix(0.8920 -0.4520 0.7215 0.5380 1198.15 426.99)" font-size="11" text-anchor="middle" dy="0.35em" >7</text>
<text transform="matrix(0.8017 0.5978 -0.8028 0.4068 813.23 404.28)" font-size="11" text-anchor="middle" dy="0.35em" >7</text>
<text transform="matrix(0.9577 -0.4305 -0.0000 1.1500 784.72 172.47)" font-size="11" text-anchor="middle" dy="0.35em" >7</text>
<text transform="matrix(0.8920 -0.4520 0.7215 0.5380 1224.48 413.52)" font-size="11" text-anchor="middle" dy="0.35em" >8</text>
<text transform="matrix(0.8017 0.5978 -0.8028 0.4068 792.19 388.41)" font-size="11" text-anchor="middle" dy="0.35em" >8</text>
<text transform="matrix(0.9577 -0.4305 -0.0000 1.1500 783.13 139.76)" font-size="11" text-anchor="middle" dy="0.35em" >8</text>
<text transform="matrix(0.9812 -0.4972 0.7215 0.5380 1141.92 483.76)" font-size="11" text-anchor="middle" dy="0.35em" >GDS</text>
<text transform="matrix(0.8818 0.6576 -0.8028 0.4068 852.53 467.77)" font-size="11" text-anchor="middle" dy="0.35em" >GDS-II</text>
<text transform="matrix(0.0000 1.1000 -1.0876 -0.5071 766 279)" font-size="12" text-anchor="middle" dy="0.35em" >GDS-III</text>
</g>
<g stroke="#0606c4" stroke-width="1.6" stroke-dasharray="2.5 2" fill="none">
<line x1="930.78" y1="402.01" x2="926.68" y2="184.66"/>
<line x1="953.22" y1="418.13" x2="950.73" y2="232.25"/>
<line x1="958.72" y1="388.9" x2="956.9" y2="236.65"/>
<line x1="970.73" y1="465.29" x2="970.17" y2="404.3"/>
<line x1="976.07" y1="434.54" x2="974.87" y2="280"/>
<line x1="981.24" y1="404.78" x2="980.05" y2="219.72"/>
<line x1="999.34" y1="451.24" x2="999.09" y2="327.91"/>
<line x1="1004.17" y1="420.95" x2="1004" y2="202.21"/>
</g>
<g>
<rect x="951.5" y="232.15" width="10.8" height="10.2" fill="#0000ff"/>
<rect x="975.06" y="278.76" width="10.8" height="10.2" fill="#0000ff"/>
<rect x="998.7" y="325.51" width="10.8" height="10.2" fill="#0000ff"/>
<path d="M1004.1 325.81L1008.9 330.61L1004.1 335.41L999.3 330.61Z" fill="#e07020"/>
<rect x="974.86" y="247.23" width="10.8" height="10.2" fill="#0000ff"/>
<rect x="946.19" y="291.58" width="10.8" height="10.2" fill="#0000ff"/>
<rect x="998.68" y="294.29" width="10.8" height="10.2" fill="#0000ff"/>
<rect x="969.96" y="338.71" width="10.8" height="10.2" fill="#0000ff"/>
<rect x="974.65" y="215.22" width="10.8" height="10.2" fill="#0000ff"/>
<path d="M980.05 215.52L984.85 220.32L980.05 225.12L975.25 220.32Z" fill="#e07020"/>
<rect x="945.76" y="259.9" width="10.8" height="10.2" fill="#0000ff"/>
<rect x="998.65" y="262.59" width="10.8" height="10.2" fill="#0000ff"/>
<rect x="969.72" y="307.35" width="10.8" height="10.2" fill="#0000ff"/>
<path d="M975.12 307.65L979.92 312.45L975.12 317.25L970.32 312.45Z" fill="#e07020"/>
<path d="M975.12 307.45L980.22 317.15L970.02 317.15Z" fill="#ff0000" stroke="#e00000" stroke-width="0.5"/>
<rect x="993.75" y="354.95" width="10.8" height="10.2" fill="#0000ff"/>
<path d="M970.17 399.2L975.87 404.9L970.17 410.6L964.47 404.9Z" fill="#008000"/>
<rect x="921.28" y="180.16" width="10.8" height="10.2" fill="#0000ff"/>
<path d="M950.73 227.85L955.83 237.55L945.63 237.55Z" fill="#ff0000" stroke="#e00000" stroke-width="0.5"/>
<path d="M974.87 274.6L979.87 284.6L969.87 284.6Z" fill="#ff00ff"/>
<circle cx="974.87" cy="280.6" r="5.3" fill="#000"/>
<rect x="993.69" y="323.41" width="10.8" height="10.2" fill="#0000ff"/>
<path d="M999.09 323.71L1003.89 328.51L999.09 333.31L994.29 328.51Z" fill="#e07020"/>
<circle cx="1004" cy="202.81" r="5.3" fill="#000"/>
</g>
<g font-family="Liberation Sans, Arial, sans-serif" font-size="18" fill="#000">
<line x1="496.5" y1="444.7" x2="496.5" y2="455.7" stroke="#0606c4" stroke-width="1.9" stroke-dasharray="2 1.6"/>
<path d="M496.5 438.77L502.43 444.7L496.5 450.63L490.57 444.7Z" fill="#008000"/>
<text x="514.9" y="453">3rd visit ACHE-I</text>
<line x1="496.5" y1="466.8" x2="496.5" y2="477.8" stroke="#0606c4" stroke-width="1.9" stroke-dasharray="2 1.6"/>
<circle cx="496.5" cy="466.8" r="5.51" fill="#000"/>
<text x="514.9" y="475.1">2nd visit ACHE-I</text>
<line x1="496.5" y1="488.6" x2="496.5" y2="499.6" stroke="#0606c4" stroke-width="1.9" stroke-dasharray="2 1.6"/>
<path d="M496.5 483.61L501.49 488.6L496.5 493.59L491.51 488.6Z" fill="#00f0f0"/>
<text x="514.9" y="496.9">1st visit ACHE-I</text>
<line x1="496.5" y1="510.5" x2="496.5" y2="521.5" stroke="#0606c4" stroke-width="1.9" stroke-dasharray="2 1.6"/>
<path d="M496.5 504.78L501.28 514.66L491.72 514.66Z" fill="#fff" stroke="#b040c0" stroke-width="1.2"/>
<text x="514.9" y="518.8">3rd visit ACHE-I+EgB761</text>
<line x1="496.5" y1="532.6" x2="496.5" y2="543.6" stroke="#0606c4" stroke-width="1.9" stroke-dasharray="2 1.6"/>
<rect x="490.88" y="527.3" width="11.23" height="10.61" fill="#0000ff"/>
<text x="514.9" y="540.9">2nd visit ACHE-I+EgB761</text>
<line x1="496.5" y1="554.4" x2="496.5" y2="565.4" stroke="#0606c4" stroke-width="1.9" stroke-dasharray="2 1.6"/>
<path d="M496.5 549.2L501.8 559.29L491.2 559.29Z" fill="#ff0000" stroke="#e00000" stroke-width="0.5"/>
<text x="514.9" y="562.7">1st visit ACHE-I+EgB761</text>
</g>
<g font-family="Liberation Sans, Arial, sans-serif" font-size="18.15" fill="#000">
<line x1="1328.7" y1="457.1" x2="1328.7" y2="468.1" stroke="#0606c4" stroke-width="1.9" stroke-dasharray="2 1.6"/>
<path d="M1328.7 451.17L1334.63 457.1L1328.7 463.03L1322.77 457.1Z" fill="#008000"/>
<text x="1348.7" y="466.7">3rd visit A+M</text>
<line x1="1328.7" y1="480" x2="1328.7" y2="491" stroke="#0606c4" stroke-width="1.9" stroke-dasharray="2 1.6"/>
<circle cx="1328.7" cy="480" r="5.51" fill="#000"/>
<text x="1348.7" y="489.6">2nd visit A+M</text>
<line x1="1328.7" y1="502.8" x2="1328.7" y2="513.8" stroke="#0606c4" stroke-width="1.9" stroke-dasharray="2 1.6"/>
<path d="M1328.7 497.81L1333.69 502.8L1328.7 507.79L1323.71 502.8Z" fill="#e07020"/>
<text x="1348.7" y="512.4">1st visit A+M</text>
<line x1="1328.7" y1="525.7" x2="1328.7" y2="536.7" stroke="#0606c4" stroke-width="1.9" stroke-dasharray="2 1.6"/>
<path d="M1328.7 519.46L1333.9 529.86L1323.5 529.86Z" fill="#ff00ff"/>
<text x="1348.7" y="535.3">3rd visit A+M+Egb761</text>
<line x1="1328.7" y1="548.6" x2="1328.7" y2="559.6" stroke="#0606c4" stroke-width="1.9" stroke-dasharray="2 1.6"/>
<rect x="1323.08" y="543.3" width="11.23" height="10.61" fill="#0000ff"/>
<text x="1348.7" y="558.2">2nd visit A+M+Egb761</text>
<line x1="1328.7" y1="571.4" x2="1328.7" y2="582.4" stroke="#0606c4" stroke-width="1.9" stroke-dasharray="2 1.6"/>
<path d="M1328.7 566.2L1334 576.29L1323.4 576.29Z" fill="#ff0000" stroke="#e00000" stroke-width="0.5"/>
<text x="1348.7" y="581">1st visit A+M+Egb761</text>
</g>
</svg>
</body></html>
